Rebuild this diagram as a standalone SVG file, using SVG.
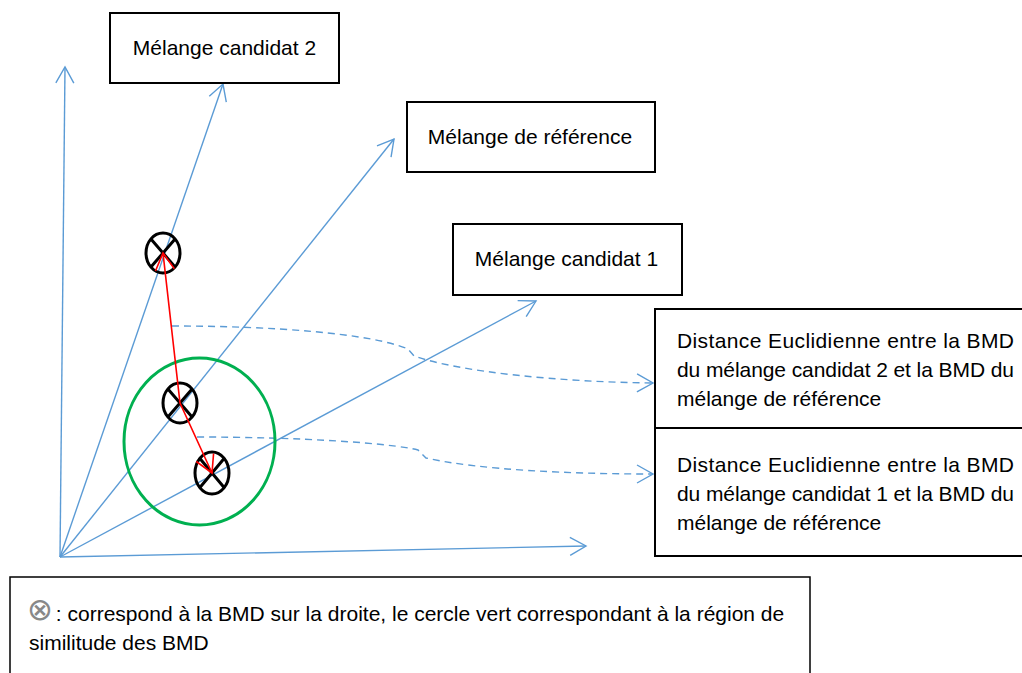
<svg xmlns="http://www.w3.org/2000/svg" width="1022" height="673" viewBox="0 0 1022 673">
<style>
.box{fill:#fff;stroke:#000;stroke-width:2}
.t{font-family:"Liberation Sans",Arial,sans-serif;font-size:21px;fill:#000}
.ax{fill:none;stroke:#5B9BD5;stroke-width:1.4;marker-end:url(#ab)}
.dash{fill:none;stroke:#5B9BD5;stroke-width:1.4;stroke-dasharray:7 5;marker-end:url(#ab)}
.bmd{fill:none;stroke:#000;stroke-width:3}
</style>
<defs>
<marker id="ab" markerUnits="userSpaceOnUse" orient="auto" refX="0" refY="0" markerWidth="1" markerHeight="1" overflow="visible">
<path d="M-16,-9 L0,0 L-16,9" fill="none" stroke="#5B9BD5" stroke-width="1.4"/>
</marker>
<marker id="ar" markerUnits="userSpaceOnUse" orient="auto-start-reverse" refX="0" refY="0" markerWidth="1" markerHeight="1" overflow="visible">
<path d="M-17,-9.5 L0,0 L-17,9.5" fill="none" stroke="#FF0000" stroke-width="1.6"/>
</marker>
</defs>
<rect width="1022" height="673" fill="#fff"/>

<g id="connectors">
<line class="ax" x1="60" y1="557" x2="65" y2="67"/>
<line class="ax" x1="60" y1="557" x2="586" y2="546"/>
<line class="ax" x1="60" y1="557" x2="223" y2="84"/>
<line class="ax" x1="60" y1="557" x2="394" y2="139"/>
<line class="ax" x1="60" y1="557" x2="536" y2="301"/>
<path class="dash" d="M172,326 C270,326 370,333 408,349 L414,356 C460,372 560,382 653,383"/>
<path class="dash" d="M197,437 C300,437 390,443 418,450 L426,458 C480,470 570,474 653,474"/>
</g>

<g id="similarity-region">
<ellipse cx="199.5" cy="441.5" rx="75.5" ry="83.5" fill="none" stroke="#00B050" stroke-width="3"/>
</g>

<g id="bmd-candidat2">
<ellipse class="bmd" cx="163" cy="253" rx="17" ry="20"/>
<path class="bmd" d="M150.5,238.5 L175.5,267.5 M175.5,238.5 L150.5,267.5"/>
</g>
<g id="bmd-reference">
<ellipse class="bmd" cx="180" cy="403" rx="17" ry="20"/>
<path class="bmd" d="M167.5,388.5 L192.5,417.5 M192.5,388.5 L167.5,417.5"/>
</g>
<g id="bmd-candidat1">
<ellipse class="bmd" cx="212" cy="473" rx="17" ry="21"/>
<path class="bmd" d="M199.5,458 L224.5,488 M224.5,458 L199.5,488"/>
</g>

<g id="distances">
<polyline points="163,253 180,403 212,473" fill="none" stroke="#FF0000" stroke-width="1.6" marker-start="url(#ar)" marker-end="url(#ar)"/>
</g>

<g id="box-candidat2">
<rect class="box" x="110" y="13" width="229" height="70"/>
<text class="t" x="224.5" y="55" text-anchor="middle">Mélange candidat 2</text>
</g>
<g id="box-reference">
<rect class="box" x="407" y="102" width="248" height="70"/>
<text class="t" x="530" y="144" text-anchor="middle">Mélange de référence</text>
</g>
<g id="box-candidat1">
<rect class="box" x="453" y="224" width="229" height="71"/>
<text class="t" x="566.5" y="266" text-anchor="middle">Mélange candidat 1</text>
</g>
<g id="box-distance2">
<rect class="box" x="655" y="309" width="380" height="119"/>
<text class="t" x="677" y="348" textLength="337" lengthAdjust="spacing">Distance Euclidienne entre la BMD</text>
<text class="t" x="677" y="377" textLength="337" lengthAdjust="spacing">du mélange candidat 2 et la BMD du</text>
<text class="t" x="677" y="406">mélange de référence</text>
</g>
<g id="box-distance1">
<rect class="box" x="655" y="428" width="380" height="128"/>
<text class="t" x="677" y="472" textLength="337" lengthAdjust="spacing">Distance Euclidienne entre la BMD</text>
<text class="t" x="677" y="501" textLength="337" lengthAdjust="spacing">du mélange candidat 1 et la BMD du</text>
<text class="t" x="677" y="530">mélange de référence</text>
</g>
<g id="legend">
<rect x="10" y="577" width="800" height="110" fill="#fff" stroke="#000" stroke-width="1.5"/>
<text class="t" x="27" y="621"><tspan font-family="'DejaVu Sans',sans-serif" fill="#888" font-size="31" dy="-1">⊗</tspan><tspan dy="1" x="50"> : correspond à la BMD sur la droite, le cercle vert correspondant à la région de</tspan></text>
<text class="t" x="29" y="650">similitude des BMD</text>
</g>
</svg>
